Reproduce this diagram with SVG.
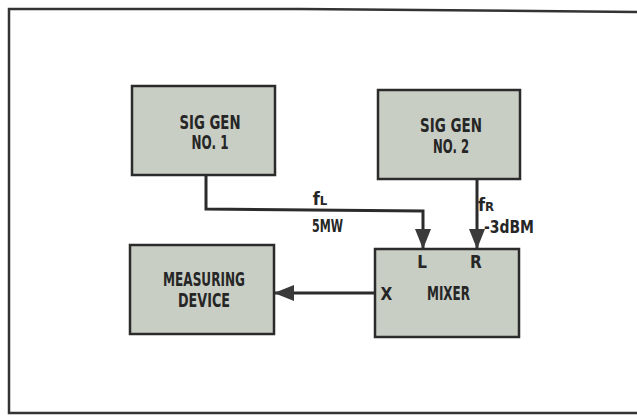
<svg xmlns="http://www.w3.org/2000/svg" width="637" height="420" viewBox="0 0 637 420">
<style>
.box{fill:#c9cec5;stroke:#2b2b2b;stroke-width:2.5}
.t{font-family:"DejaVu Sans Condensed","DejaVu Sans","Liberation Sans",sans-serif;font-weight:bold;fill:#262626;text-anchor:middle}
.lbl{font-size:19px}
.sm{font-size:17px}
.wire{fill:none;stroke:#2b2b2b;stroke-width:3}
</style>
<defs>
<marker id="ah" viewBox="0 0 20 16" refX="20" refY="8" markerWidth="20" markerHeight="16" markerUnits="userSpaceOnUse" orient="auto">
<path d="M0,0 L20,8 L0,16 Z" fill="#3a3a3a"/>
</marker>
</defs>
<rect width="637" height="420" fill="#ffffff"/>
<path d="M640,12 L300,9 L9,9 L9,413 L640,413" fill="none" stroke="#333" stroke-width="2.5"/>
<g id="siggen1">
<rect class="box" x="132" y="86" width="143" height="89"/>
<text class="t lbl" x="210" y="129" textLength="61" lengthAdjust="spacingAndGlyphs">SIG GEN</text>
<text class="t lbl" x="210" y="149" textLength="37" lengthAdjust="spacingAndGlyphs">NO. 1</text>
</g>
<g id="siggen2">
<rect class="box" x="378" y="90" width="142" height="89"/>
<text class="t lbl" x="451" y="132" textLength="62" lengthAdjust="spacingAndGlyphs">SIG GEN</text>
<text class="t lbl" x="451" y="153" textLength="36" lengthAdjust="spacingAndGlyphs">NO. 2</text>
</g>
<g id="measuring">
<rect class="box" x="130" y="245" width="144" height="89"/>
<text class="t lbl" x="204" y="286" textLength="82" lengthAdjust="spacingAndGlyphs">MEASURING</text>
<text class="t lbl" x="204" y="307" textLength="52" lengthAdjust="spacingAndGlyphs">DEVICE</text>
</g>
<g id="mixer">
<rect class="box" x="375" y="249" width="144" height="88"/>
<text class="t lbl" x="448.5" y="300" textLength="43" lengthAdjust="spacingAndGlyphs">MIXER</text>
<text class="t sm" x="386.5" y="300">X</text>
<text class="t sm" x="422" y="268">L</text>
<text class="t sm" x="476" y="268">R</text>
</g>
<g id="connectors">
<path class="wire" d="M206,175 L206,209 L423,211 L423,249" marker-end="url(#ah)"/>
<path class="wire" d="M477,179 L477,249" marker-end="url(#ah)"/>
<path class="wire" d="M375,293 L274,293" marker-end="url(#ah)"/>
</g>
<g id="labels">
<text class="t" font-size="18" x="320" y="205" text-anchor="start">f<tspan font-size="13">L</tspan></text>
<text class="t sm" x="327.5" y="232" textLength="31" lengthAdjust="spacingAndGlyphs">5MW</text>
<text class="t" font-size="18" x="486" y="211" text-anchor="start">f<tspan font-size="13">R</tspan></text>
<text class="t sm" x="509" y="233" textLength="50" lengthAdjust="spacingAndGlyphs">-3dBM</text>
</g>
</svg>
